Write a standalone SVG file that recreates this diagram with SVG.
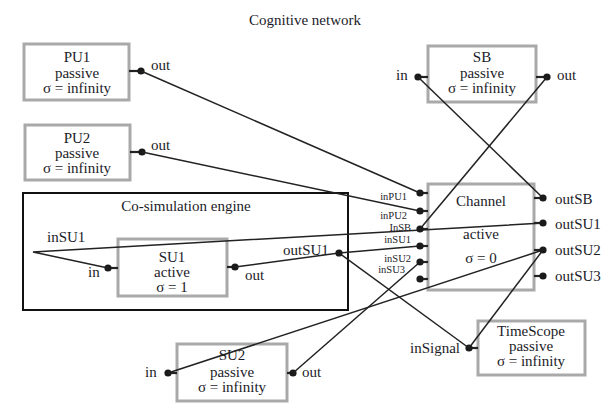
<svg xmlns="http://www.w3.org/2000/svg" width="609" height="412" viewBox="0 0 609 412" font-family="Liberation Serif, DejaVu Serif, serif">
<defs>
<style>
text{fill:#1c1c28;}
.t{font-size:15px;text-anchor:middle;}
.l{font-size:15px;}
.s{font-size:10.5px;text-anchor:end;}
.box{fill:#fff;stroke:#a9a9a9;stroke-width:3;}
.eng{fill:none;stroke:#111;stroke-width:2;}
.c{fill:none;stroke:#222;stroke-width:1.5;}
.stub{stroke:#222;stroke-width:2.2;}
.dot{fill:#1a1a1a;}
</style>
</defs>
<rect width="609" height="412" fill="#fff"/>
<text x="305" y="25" class="t">Cognitive network</text>

<g id="cosim">
<rect x="23" y="193" width="325" height="117" class="eng"/>
<text x="186" y="211" class="t">Co-simulation engine</text>
<text x="47" y="242" class="l">inSU1</text>
<text x="283" y="255" class="l">outSU1</text>
</g>

<g id="PU1">
<rect x="24" y="44" width="105" height="56" class="box"/>
<text x="77" y="62" class="t">PU1</text>
<text x="77" y="78" class="t">passive</text>
<text x="77" y="93" class="t">σ = infinity</text>
<line x1="129" y1="71" x2="141" y2="71" class="stub"/>
<circle cx="141" cy="71" r="3.6" class="dot"/>
<text x="151" y="70" class="l">out</text>
</g>

<g id="PU2">
<rect x="25" y="125" width="105" height="55" class="box"/>
<text x="77" y="143" class="t">PU2</text>
<text x="77" y="158" class="t">passive</text>
<text x="77" y="173" class="t">σ = infinity</text>
<line x1="130" y1="152" x2="142" y2="152" class="stub"/>
<circle cx="142" cy="152" r="3.6" class="dot"/>
<text x="151" y="150" class="l">out</text>
</g>

<g id="SB">
<rect x="428" y="46" width="108" height="56" class="box"/>
<text x="482" y="62" class="t">SB</text>
<text x="482" y="78" class="t">passive</text>
<text x="482" y="93" class="t">σ = infinity</text>
<line x1="418" y1="77" x2="428" y2="77" class="stub"/>
<circle cx="418" cy="77" r="3.6" class="dot"/>
<line x1="536" y1="77" x2="547" y2="77" class="stub"/>
<circle cx="547" cy="77" r="3.6" class="dot"/>
<text x="396" y="80" class="l">in</text>
<text x="557" y="80" class="l">out</text>
</g>

<g id="Channel">
<rect x="428" y="184" width="106" height="106" class="box"/>
<text x="481" y="206" class="t">Channel</text>
<text x="481" y="239" class="t">active</text>
<text x="481" y="263" class="t">σ = 0</text>
<text x="407" y="200" class="s">inPU1</text>
<text x="407" y="219" class="s">inPU2</text>
<text x="411" y="231" class="s">InSB</text>
<text x="411" y="243" class="s">inSU1</text>
<text x="411" y="262" class="s">inSU2</text>
<text x="405" y="273" class="s">inSU3</text>
<text x="555" y="204" class="l">outSB</text>
<text x="555" y="229" class="l">outSU1</text>
<text x="555" y="255" class="l">outSU2</text>
<text x="555" y="281" class="l">outSU3</text>
</g>

<g id="SU1">
<rect x="118" y="239" width="109" height="57" class="box"/>
<text x="172" y="262" class="t">SU1</text>
<text x="172" y="277" class="t">active</text>
<text x="172" y="292" class="t">σ = 1</text>
<line x1="108" y1="268" x2="118" y2="268" class="stub"/>
<circle cx="108" cy="268" r="3.6" class="dot"/>
<line x1="227" y1="267" x2="235" y2="267" class="stub"/>
<circle cx="235" cy="267" r="3.6" class="dot"/>
<text x="88" y="277" class="l">in</text>
<text x="245" y="280" class="l">out</text>
</g>

<g id="SU2">
<rect x="177" y="344" width="110" height="57" class="box"/>
<text x="232" y="360" class="t">SU2</text>
<text x="232" y="377" class="t">passive</text>
<text x="232" y="392" class="t">σ = infinity</text>
<line x1="168" y1="373" x2="177" y2="373" class="stub"/>
<circle cx="168" cy="373" r="3.6" class="dot"/>
<line x1="287" y1="373" x2="293" y2="373" class="stub"/>
<circle cx="293" cy="373" r="3.6" class="dot"/>
<text x="145" y="377" class="l">in</text>
<text x="302" y="377" class="l">out</text>
</g>

<g id="TimeScope">
<rect x="478" y="321" width="107" height="54" class="box"/>
<text x="531" y="336" class="t">TimeScope</text>
<text x="531" y="351" class="t">passive</text>
<text x="531" y="366" class="t">σ = infinity</text>
<line x1="469" y1="348" x2="478" y2="348" class="stub"/>
<circle cx="469" cy="348" r="3.6" class="dot"/>
<text x="460" y="353" class="l" text-anchor="end">inSignal</text>
</g>

<g id="connectors">
<line x1="141" y1="71" x2="420" y2="193" class="c"/>
<line x1="142" y1="152" x2="420" y2="211" class="c"/>
<line x1="418" y1="77" x2="543" y2="198" class="c"/>
<line x1="547" y1="77" x2="420" y2="229" class="c"/>
<polyline points="543,223 33,252 108,268" class="c"/>
<line x1="235" y1="267" x2="339" y2="253" class="c"/>
<line x1="339" y1="253" x2="420" y2="246" class="c"/>
<line x1="339" y1="253" x2="469" y2="348" class="c"/>
<line x1="543" y1="250" x2="168" y2="373" class="c"/>
<line x1="543" y1="250" x2="469" y2="348" class="c"/>
<line x1="293" y1="373" x2="420" y2="262" class="c"/>
</g>

<g id="ports">
<line x1="420" y1="193" x2="428" y2="193" class="stub"/><circle cx="420" cy="193" r="3.6" class="dot"/>
<line x1="420" y1="211" x2="428" y2="211" class="stub"/><circle cx="420" cy="211" r="3.6" class="dot"/>
<line x1="420" y1="229" x2="428" y2="229" class="stub"/><circle cx="420" cy="229" r="3.6" class="dot"/>
<line x1="420" y1="246" x2="428" y2="246" class="stub"/><circle cx="420" cy="246" r="3.6" class="dot"/>
<line x1="420" y1="262" x2="428" y2="262" class="stub"/><circle cx="420" cy="262" r="3.6" class="dot"/>
<line x1="420" y1="279" x2="428" y2="279" class="stub"/><circle cx="420" cy="279" r="3.6" class="dot"/>
<line x1="534" y1="198" x2="543" y2="198" class="stub"/><circle cx="543" cy="198" r="3.6" class="dot"/>
<line x1="534" y1="223" x2="543" y2="223" class="stub"/><circle cx="543" cy="223" r="3.6" class="dot"/>
<line x1="534" y1="250" x2="543" y2="250" class="stub"/><circle cx="543" cy="250" r="3.6" class="dot"/>
<line x1="534" y1="276" x2="543" y2="276" class="stub"/><circle cx="543" cy="276" r="3.6" class="dot"/>
<circle cx="339" cy="253" r="3.6" class="dot"/>
</g>
</svg>
